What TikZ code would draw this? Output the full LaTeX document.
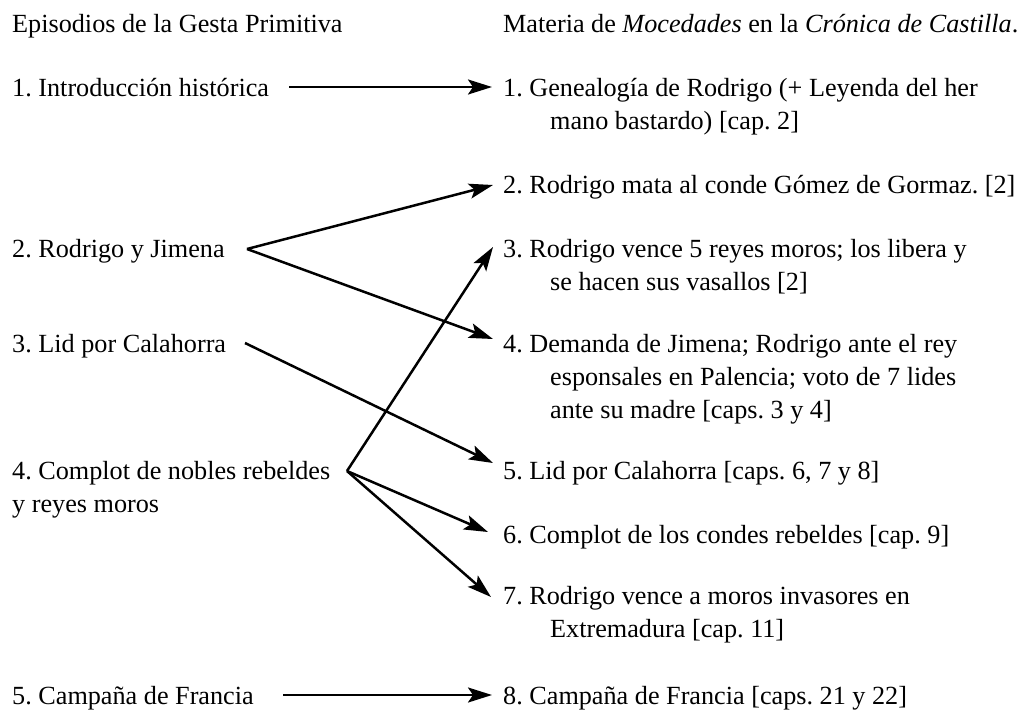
\documentclass[tikz,border=0pt]{standalone}
\usepackage{fontspec}
\setmainfont{Liberation Serif}
\usetikzlibrary{arrows.meta}
\frenchspacing
\begin{document}
\begin{tikzpicture}[x=1pt,y=-1pt,
  lab/.style={anchor=base west,inner sep=0pt,font=\fontsize{26.2}{33}\selectfont},
  conn/.style={line width=2.5pt,-{Stealth[length=24pt,width=15pt,inset=5pt]}}]
\useasboundingbox (0,0) rectangle (1018,713);
% headers
\node[lab] (hl) at (12,32) {Episodios de la Gesta Primitiva};
\node[lab] (hr) at (503,32) {Materia de \textit{Mocedades} en la \textit{Crónica de Castilla}.};
% left column
\node[lab] (l1) at (12,96) {1. Introducción histórica};
\node[lab] (l2) at (12,257) {2. Rodrigo y Jimena};
\node[lab] (l3) at (12,352) {3. Lid por Calahorra};
\node[lab] (l4) at (12,479) {4. Complot de nobles rebeldes};
\node[lab] (l4b) at (12,512) {y reyes moros};
\node[lab] (l5) at (12,704) {5. Campaña de Francia};
% right column
\node[lab] (r1) at (503,96) {1. Genealogía de Rodrigo (+ Leyenda del her};
\node[lab] (r1b) at (550,129) {mano bastardo) [cap. 2]};
\node[lab] (r2) at (503,193) {2. Rodrigo mata al conde Gómez de Gormaz. [2]};
\node[lab] (r3) at (503,257) {3. Rodrigo vence 5 reyes moros; los libera y};
\node[lab] (r3b) at (550,290) {se hacen sus vasallos [2]};
\node[lab] (r4) at (503,352) {4. Demanda de Jimena; Rodrigo ante el rey};
\node[lab] (r4b) at (550,385) {esponsales en Palencia; voto de 7 lides};
\node[lab] (r4c) at (550,418) {ante su madre [caps. 3 y 4]};
\node[lab] (r5) at (503,479) {5. Lid por Calahorra [caps. 6, 7 y 8]};
\node[lab] (r6) at (503,543) {6. Complot de los condes rebeldes [cap. 9]};
\node[lab] (r7) at (503,604) {7. Rodrigo vence a moros invasores en};
\node[lab] (r7b) at (550,637) {Extremadura [cap. 11]};
\node[lab] (r8) at (503,704) {8. Campaña de Francia [caps. 21 y 22]};
% connector endpoints
\coordinate (a1) at (289,87);  \coordinate (b1) at (492,87);
\coordinate (a2) at (247,249); \coordinate (b2) at (493,185);
                               \coordinate (b4) at (493,339);
\coordinate (a3) at (245,343); \coordinate (b5) at (493,463);
\coordinate (a4) at (347,471); \coordinate (b3) at (493,247);
                               \coordinate (b6) at (488,532);
                               \coordinate (b7) at (491,597);
\coordinate (a5) at (283,695); \coordinate (b8) at (492,695);
\draw[conn] (a1) -- (b1);
\draw[conn] (a2) -- (b2);
\draw[conn] (a2) -- (b4);
\draw[conn] (a3) -- (b5);
\draw[conn] (a4) -- (b3);
\draw[conn] (a4) -- (b6);
\draw[conn] (a4) -- (b7);
\draw[conn] (a5) -- (b8);
\end{tikzpicture}
\end{document}
